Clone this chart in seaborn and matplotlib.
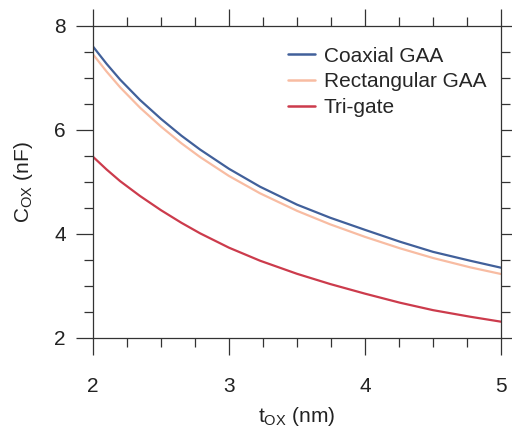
import matplotlib
matplotlib.use("Agg")
import matplotlib.pyplot as plt
from matplotlib.ticker import MultipleLocator
import seaborn as sns
import pandas as pd

t_ox = [2.0, 2.1, 2.2, 2.346, 2.5, 2.65, 2.787, 3.0, 3.228, 3.5, 3.743, 4.0, 4.257, 4.5, 4.772, 5.0]
coaxial = [7.60, 7.267, 6.962, 6.571, 6.208, 5.885, 5.619, 5.248, 4.904, 4.559, 4.308, 4.074, 3.846, 3.651, 3.481, 3.346]
rectangular = [7.45, 7.118, 6.814, 6.423, 6.060, 5.739, 5.475, 5.110, 4.777, 4.440, 4.181, 3.939, 3.719, 3.533, 3.354, 3.225]
trigate = [5.48, 5.235, 5.010, 4.725, 4.452, 4.210, 4.008, 3.731, 3.481, 3.229, 3.033, 2.847, 2.673, 2.530, 2.404, 2.308]
series_names = ["Coaxial GAA", "Rectangular GAA", "Tri-gate"]
colors = ["#41609a", "#f8bca2", "#cc3b4c"]

rows = []
for name, vals in zip(series_names, [coaxial, rectangular, trigate]):
    for t, v in zip(t_ox, vals):
        rows.append({"t": t, "C": v, "series": name})
df = pd.DataFrame(rows)

sns.set_theme(style="ticks")
plt.rcParams["font.family"] = ["Liberation Sans", "DejaVu Sans"]
plt.rcParams["mathtext.fontset"] = "custom"
plt.rcParams["mathtext.rm"] = "Liberation Sans"
plt.rcParams["mathtext.it"] = "Liberation Sans:italic"

fig = plt.figure(figsize=(5.12, 4.37), dpi=100)
ax = fig.add_axes([0.1816, 0.2272, 0.797, 0.714])

sns.lineplot(data=df, x="t", y="C", hue="series", hue_order=series_names,
             palette=colors, linewidth=1.6, ax=ax, legend=True)

ax.set_xlim(2, 5)
ax.set_ylim(2, 8)
ax.xaxis.set_major_locator(MultipleLocator(1))
ax.xaxis.set_minor_locator(MultipleLocator(0.25))
ax.yaxis.set_major_locator(MultipleLocator(2))
ax.yaxis.set_minor_locator(MultipleLocator(0.5))

axc = "#333333"
for s in ax.spines.values():
    s.set_visible(True)
    s.set_color(axc)
    s.set_linewidth(0.9)

ax.tick_params(which="both", direction="out", top=True, right=True,
               color=axc, width=0.9, labelsize=15, labelcolor="#222222")
ax.tick_params(which="major", length=12.5)
ax.tick_params(which="minor", length=6.5)
ax.tick_params(axis="x", which="major", pad=16)
ax.tick_params(axis="y", which="major", pad=7)

ax.set_xlabel(r"t$_{\mathrm{OX}}$ (nm)", fontsize=15, color="#222222", labelpad=6)
ax.set_ylabel(r"C$_{\mathrm{OX}}$ (nF)", fontsize=15, color="#222222", labelpad=14)

leg = ax.legend(loc="upper right", bbox_to_anchor=(1.0, 0.98), frameon=False,
                fontsize=15, handlelength=1.3, handletextpad=0.45,
                labelspacing=0.33, borderaxespad=0.3)
for line in leg.get_lines():
    line.set_linewidth(1.8)

fig.savefig("out.png", dpi=100)
